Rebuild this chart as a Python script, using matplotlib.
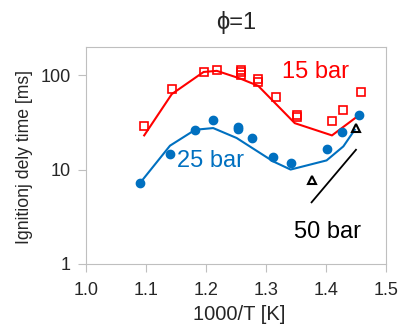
import numpy as np
import matplotlib.pyplot as plt

plt.rcParams['font.family'] = ['Liberation Sans', 'DejaVu Sans']

# 15 bar experiment (squares) and model (line)
x15_exp = [1.097, 1.144, 1.197, 1.219, 1.259, 1.259, 1.259, 1.286, 1.286, 1.317, 1.351, 1.351, 1.41, 1.428, 1.459]
y15_exp = [29, 71, 107, 114, 114, 107, 100, 91, 84, 59, 38, 36, 33, 43, 66]
x15_mod = [1.097, 1.143, 1.196, 1.218, 1.257, 1.287, 1.348, 1.41, 1.451]
y15_mod = [23, 63, 108, 111, 92, 77, 31, 23, 36]

# 25 bar experiment (circles) and model (line)
x25_exp = [1.09, 1.14, 1.182, 1.212, 1.254, 1.254, 1.277, 1.311, 1.341, 1.401, 1.427, 1.455]
y25_exp = [7.2, 14.7, 26, 33.6, 28.5, 27, 21.6, 13.6, 11.8, 16.5, 25, 38]
x25_mod = [1.09, 1.14, 1.182, 1.212, 1.251, 1.312, 1.341, 1.401, 1.429, 1.448]
y25_mod = [7.2, 17.9, 26.4, 27.5, 21.6, 12.2, 10, 12.5, 17.6, 26.4]

# 50 bar experiment (triangles) and model (line)
x50_exp = [1.376, 1.45]
y50_exp = [7.7, 27.5]
x50_mod = [1.376, 1.45]
y50_mod = [4.5, 16.2]

red = '#ff0000'
blue = '#0070c0'
grey = '#bfbfbf'
dark = '#262626'

fig = plt.figure(figsize=(4.01, 3.30), dpi=100)
ax = fig.add_axes([0.2145, 0.2, 0.748, 0.6585])

ax.plot(x15_mod, y15_mod, color=red, lw=1.5)
ax.plot(x15_exp, y15_exp, 's', ms=5.8, mfc='none', mec=red, mew=1.2)
ax.plot(x25_mod, y25_mod, color=blue, lw=1.5)
ax.plot(x25_exp, y25_exp, 'o', ms=6, color=blue)
ax.plot(x50_mod, y50_mod, color='black', lw=1.3)
ax.plot(x50_exp, y50_exp, '^', ms=6, mfc='none', mec='black', mew=1.5)

ax.text(1.383, 108, '15 bar', color=red, fontsize=17, ha='center', va='center')
ax.text(1.208, 12.2, '25 bar', color=blue, fontsize=17, ha='center', va='center')
ax.text(1.402, 2.17, '50 bar', color='black', fontsize=17, ha='center', va='center')

ax.set_yscale('log')
ax.set_xlim(1.0, 1.5)
ax.set_ylim(1, 200)
ax.set_xticks([1.0, 1.1, 1.2, 1.3, 1.4, 1.5])
ax.set_xticklabels(['1.0', '1.1', '1.2', '1.3', '1.4', '1.5'])
ax.set_yticks([1, 10, 100])
ax.set_yticklabels(['1', '10', '100'])
ax.yaxis.set_minor_locator(plt.NullLocator())

for s in ax.spines.values():
    s.set_color(grey)
ax.tick_params(axis='both', colors=grey, labelcolor=dark, labelsize=13, length=6)
ax.tick_params(axis='x', pad=7)
ax.tick_params(axis='y', pad=5)

fig.text(0.589, 1 - 23 / 330, 'ϕ=1', fontsize=17, color=dark, ha='center', va='center')
fig.text(239 / 401, 1 - 314 / 330, '1000/T [K]', fontsize=14.5, color=dark,
         ha='center', va='center')
fig.text(25 / 401, 1 - 157 / 330, 'Ignitionj dely time [ms]', fontsize=12.7, color=dark,
         ha='center', va='center', rotation=90)

fig.savefig('out.png', dpi=100)
